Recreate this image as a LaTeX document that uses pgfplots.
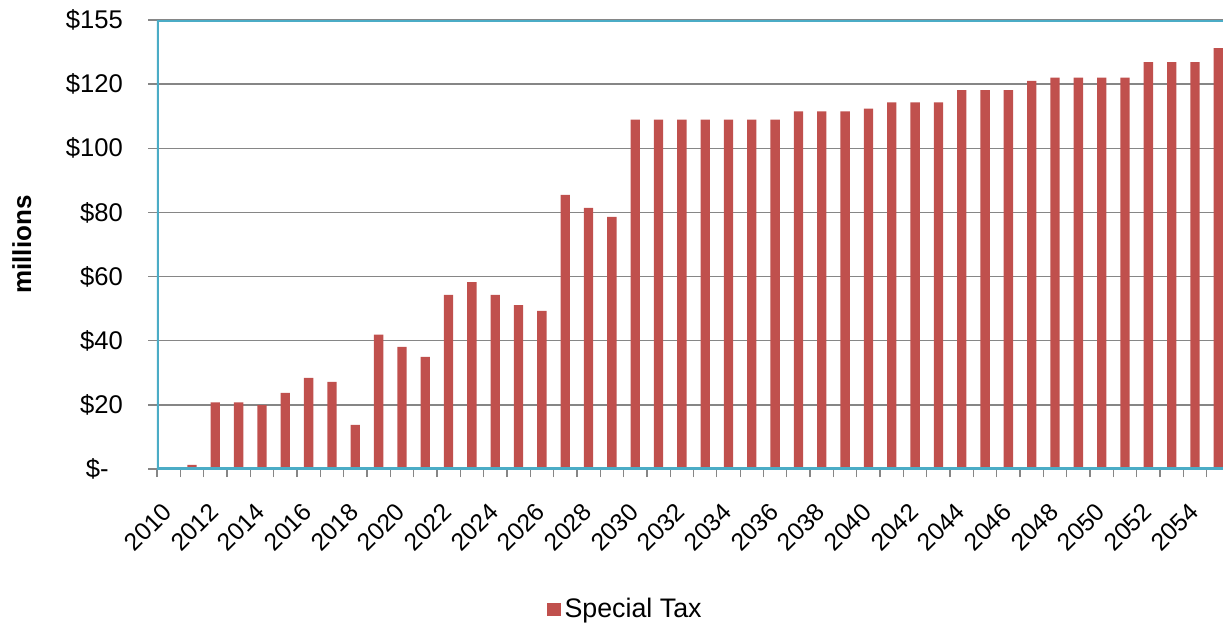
\documentclass[border=0pt]{standalone}
\usepackage{fontspec}
\setmainfont{Liberation Sans}
\usepackage{pgfplots}
\pgfplotsset{compat=1.18}
\definecolor{barred}{HTML}{C0504D}
\definecolor{frameblue}{HTML}{4BACC6}
\definecolor{gridgrey}{HTML}{868686}
\begin{document}
\begin{tikzpicture}
\begin{axis}[
  scale only axis, width=533pt, height=224.5pt,
  xmin=2009.5, xmax=2055.2, ymin=0, ymax=140,
  axis line style={draw=none},
  ybar, bar width=0.4,
  ytick={0,20,40,60,80,100,120,140},
  yticklabels={\$-\hphantom{0},\$20,\$40,\$60,\$80,\$100,\$120,\$155},
  ymajorgrids, grid style={gridgrey, line width=0.65pt},
  xtick={2010,2012,2014,2016,2018,2020,2022,2024,2026,2028,2030,2032,2034,2036,2038,2040,2042,2044,2046,2048,2050,2052,2054},
  xticklabels={2010,2012,2014,2016,2018,2020,2022,2024,2026,2028,2030,2032,2034,2036,2038,2040,2042,2044,2046,2048,2050,2052,2054},
  minor xtick={2009.5,2010.5,...,2054.5},
  xtick pos=bottom, ytick pos=left,
  tick align=outside,
  major tick length=4.5pt, minor tick length=4pt,
  major x tick style={draw=none},
  minor x tick style={gridgrey, line width=0.65pt},
  major y tick style={gridgrey, line width=0.65pt},
  xticklabel style={font=\fontsize{12.3}{14}\selectfont, yshift=-14.7pt, xshift=-0.5pt, rotate=45, anchor=east, inner sep=0pt},
  yticklabel style={font=\fontsize{12.8}{15}\selectfont, anchor=east, inner sep=0pt, xshift=-12.4pt},
  ylabel={millions},
  ylabel style={font=\fontsize{13}{15}\selectfont\bfseries, at={(axis description cs:-0.1268,0.5)}, anchor=center, inner sep=0pt},
  legend style={at={(axis description cs:0.44,-0.313)}, anchor=center, draw=none, font=\fontsize{13.4}{15}\selectfont, inner sep=0pt},
  legend image code/.code={\fill[#1] (0pt,-3.4pt) rectangle (7pt,3.4pt);},
]
\addplot[fill=barred, draw=none] coordinates {
(2010,0) (2011,1.3) (2012,20.8) (2013,20.8) (2014,19.9) (2015,23.7)
(2016,28.4) (2017,27.2) (2018,13.8) (2019,41.9) (2020,38.1) (2021,35.0)
(2022,54.3) (2023,58.3) (2024,54.3) (2025,51.1) (2026,49.3) (2027,85.5)
(2028,81.4) (2029,78.6) (2030,108.9) (2031,108.9) (2032,108.9) (2033,108.9)
(2034,108.9) (2035,108.9) (2036,108.9) (2037,111.5) (2038,111.5) (2039,111.5)
(2040,112.4) (2041,114.3) (2042,114.3) (2043,114.3) (2044,118.1) (2045,118.1)
(2046,118.1) (2047,121.0) (2048,122.0) (2049,122.0) (2050,122.0) (2051,122.0)
(2052,126.9) (2053,126.9) (2054,126.9) (2055,131.2)
};
\addlegendentry{Special Tax}
\draw[frameblue, line width=2.4pt] (rel axis cs:1,1) -- (rel axis cs:0,1) -- (rel axis cs:0,0) -- (rel axis cs:1,0);
\coordinate (bl) at (rel axis cs:0,0);
\coordinate (tr) at (rel axis cs:1,1);
\end{axis}
\pgfresetboundingbox
\path ([xshift=-78.5pt,yshift=-76.5pt]bl) rectangle ([yshift=10pt]tr);
\end{tikzpicture}
\end{document}
